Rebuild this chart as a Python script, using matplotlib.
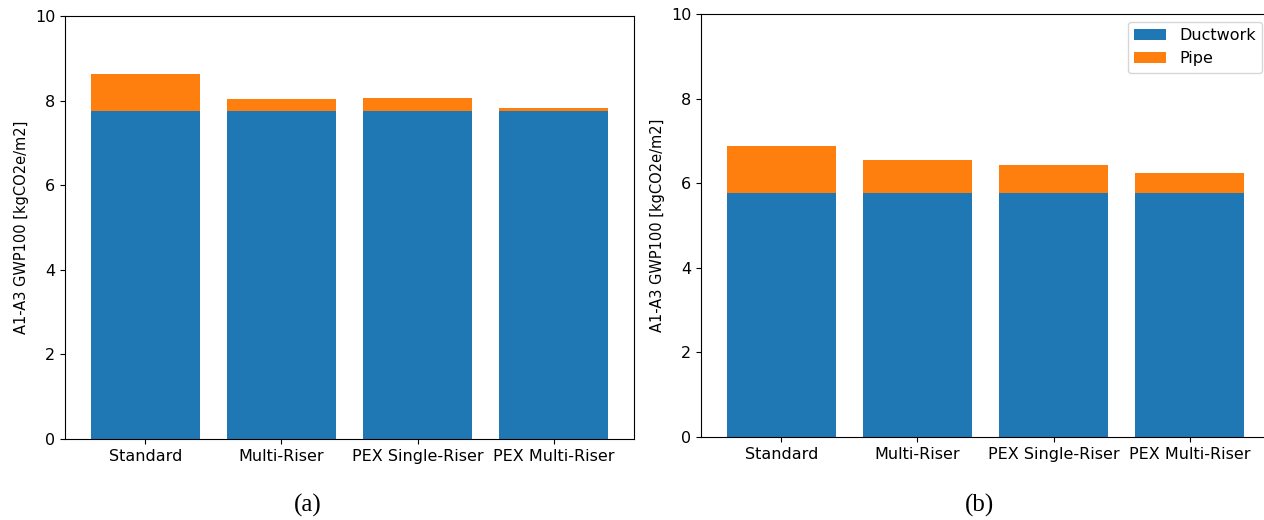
import matplotlib
matplotlib.use("Agg")
import matplotlib.pyplot as plt

# -------------------------
# Data
# -------------------------
categories = ["Standard", "Multi-Riser", "PEX Single-Riser", "PEX Multi-Riser"]

# panel (a)
ductwork_a = [7.76, 7.76, 7.76, 7.76]
pipe_a = [0.86, 0.27, 0.29, 0.07]

# panel (b)
ductwork_b = [5.78, 5.78, 5.78, 5.78]
pipe_b = [1.10, 0.78, 0.64, 0.46]

ylabel = "A1-A3 GWP100 [kgCO2e/m2]"
blue = "#1f77b4"
orange = "#ff7f0e"

plt.rcParams["font.size"] = 11.5

fig = plt.figure(figsize=(12.64, 5.2), dpi=100)

# axes placed in pixel terms to line up with the reference
W, H = 1264.0, 520.0
ax_a = fig.add_axes([65 / W, (H - 439) / H, 569 / W, 423 / H])
ax_b = fig.add_axes([701 / W, (H - 437) / H, 569 / W, 423 / H])


def stacked(ax, duct, pipe, legend=False):
    x = range(len(categories))
    ax.bar(x, duct, color=blue, label="Ductwork")
    ax.bar(x, pipe, bottom=duct, color=orange, label="Pipe")
    ax.set_xticks(list(x))
    ax.set_xticklabels(categories)
    ax.set_ylim(0, 10)
    ax.set_ylabel(ylabel, fontsize=10.5)
    if legend:
        ax.legend(loc="upper right", fontsize=11.5)


stacked(ax_a, ductwork_a, pipe_a)
stacked(ax_b, ductwork_b, pipe_b, legend=True)

# sub-figure captions
fig.text(308 / W, 1 - 505 / H, "(a)", ha="center", va="center",
         family="Liberation Serif", fontsize=18)
fig.text(980 / W, 1 - 505 / H, "(b)", ha="center", va="center",
         family="Liberation Serif", fontsize=18)

fig.savefig("out.png", dpi=100)
